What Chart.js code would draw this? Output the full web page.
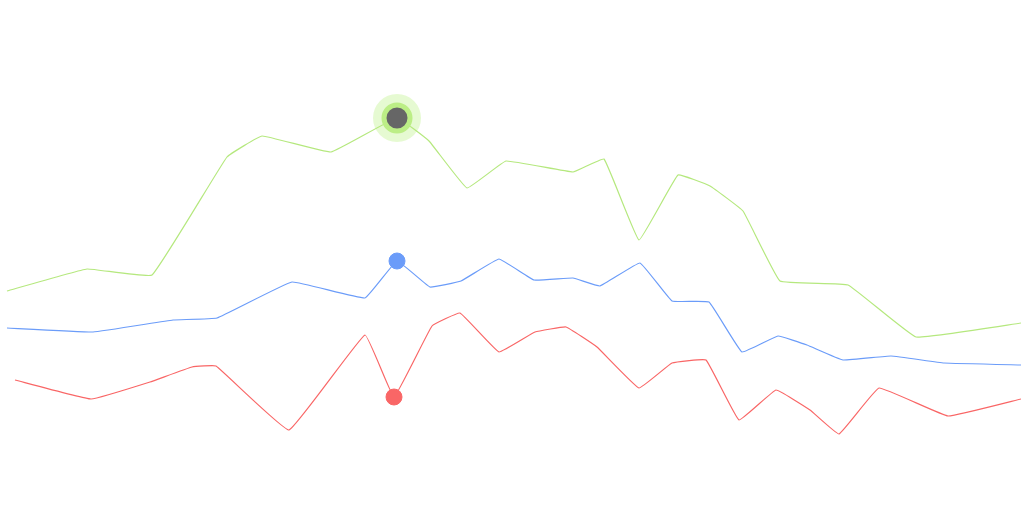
<!DOCTYPE html>
<html>
<head>
<meta charset="utf-8">
<script src="https://cdn.jsdelivr.net/npm/chart.js@4"></script>
<style>
html,body{margin:0;padding:0;background:#fff;}
#wrap{width:1021px;height:515px;}
</style>
</head>
<body>
<div id="wrap"><canvas id="c" width="1021" height="515"></canvas></div>
<script>
// Series data (x positions and values)
const greenX = [7,87,152,227,262,331,397,429,467,506,573,604,639,678,710,743,780,848,916,1021];
const greenY = [224,246,240,358,379,363,397,374,327,354,343,356,275,340,329,304,234,230,178,192];
const blueX  = [7,93,173,217,292,365,397,430,461,499,534,573,600,640,672,709,742,778,807,843,891,944,1021];
const blueY  = [187,183,195,197,233,217,254,228,234,256,235,237,229,252,214,213,163,179,170,155,159,152,150];
const redX   = [15,91,150,192,216,289,365,394,432,460,499,535,566,597,639,672,706,739,776,810,839,879,948,1021];
const redY   = [135,116,133,148,149,85,180,118,189,202,163,183,188,168,127,152,155,95,125,105,81,127,99,116];
const greenHi = 6, blueHi = 6, redHi = 7;

const GREEN = '#b5e87e', BLUE = '#6b9cf9', RED = '#f96666';

function pts(xs, ys){ return xs.map((x,i)=>({x:x, y:ys[i]})); }

const chart = new Chart(document.getElementById('c'), {
  type: 'line',
  data: {
    datasets: [
      {
        data: pts(greenX, greenY),
        borderColor: GREEN, borderWidth: 1.2, tension: 0.08, fill: false,
        pointRadius: ctx => ctx.dataIndex === greenHi ? 13 : 0,
        pointBackgroundColor: '#666666',
        pointBorderColor: '#bcee86',
        pointBorderWidth: 5,
        order: 1
      },
      {
        data: [{x: greenX[greenHi], y: greenY[greenHi]}],
        showLine: false,
        pointRadius: 24,
        pointBackgroundColor: 'rgba(214,246,180,0.6)',
        pointBorderWidth: 0,
        order: 10
      },
      {
        data: pts(blueX, blueY),
        borderColor: BLUE, borderWidth: 1.2, tension: 0.08, fill: false,
        pointRadius: ctx => ctx.dataIndex === blueHi ? 8 : 0,
        pointBackgroundColor: BLUE, pointBorderColor: BLUE, pointBorderWidth: 1,
        order: 2
      },
      {
        data: pts(redX, redY),
        borderColor: RED, borderWidth: 1.2, tension: 0.08, fill: false,
        pointRadius: ctx => ctx.dataIndex === redHi ? 8 : 0,
        pointBackgroundColor: RED, pointBorderColor: RED, pointBorderWidth: 1,
        order: 3
      }
    ]
  },
  options: {
    responsive: false,
    animation: false,
    events: [],
    layout: { padding: 0, autoPadding: false },
    plugins: { legend: { display: false }, tooltip: { enabled: false } },
    scales: {
      x: { type: 'linear', min: 0, max: 1021, display: false },
      y: { type: 'linear', min: 0, max: 515, display: false }
    }
  }
});
</script>
</body>
</html>
